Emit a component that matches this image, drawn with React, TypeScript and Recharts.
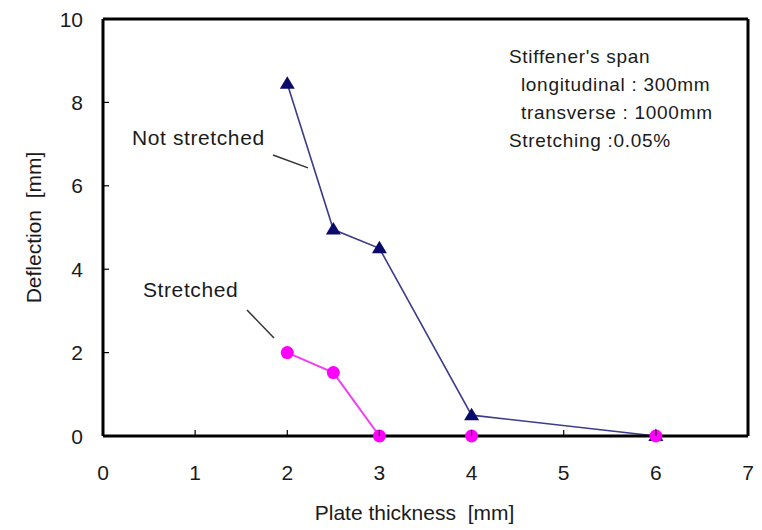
import React from 'react'
import { LineChart, Line, XAxis, YAxis, ReferenceLine, ReferenceDot } from 'recharts'

// plate thickness [mm] and deflection [mm]
const thicknessNotStretched = [2, 2.5, 3, 4, 6]
const deflectionNotStretched = [8.45, 4.95, 4.5, 0.5, 0]
const thicknessStretched = [2, 2.5, 3, 4, 6]
const deflectionStretched = [2.0, 1.52, 0, 0, 0]

const xTicks = [0, 1, 2, 3, 4, 5, 6, 7]
const yTicks = [0, 2, 4, 6, 8, 10]

const noteLines = ["Stiffener's span", '  longitudinal : 300mm', '  transverse : 1000mm', 'Stretching :0.05%']

const notStretched = thicknessNotStretched.map((x, i) => ({ x, y: deflectionNotStretched[i] }))
const stretched = thicknessStretched.map((x, i) => ({ x, y: deflectionStretched[i] }))

const FONT = '"Liberation Sans", Arial, sans-serif'
const TXT = '#1a1a1a'

const XTick = ({ x, y, payload }: any) => (
  <g>
    <line x1={x} x2={x} y1={y} y2={y - 6} stroke="#000" strokeWidth={1.2} />
    <text x={x} y={y + 44} textAnchor="middle" fontSize={21} fontFamily={FONT} fill={TXT}>
      {payload.value}
    </text>
  </g>
)

const YTick = ({ x, y, payload }: any) => (
  <g>
    <line x1={x} x2={x + 6} y1={y} y2={y} stroke="#000" strokeWidth={1.2} />
    <text x={x - 20} y={y} dy="0.36em" textAnchor="end" fontSize={21} fontFamily={FONT} fill={TXT}>
      {payload.value}
    </text>
  </g>
)

const Triangle = ({ cx, cy, index }: any) => (
  <path key={index} d={`M${cx},${cy - 7.5} L${cx + 7.5},${cy + 5} L${cx - 7.5},${cy + 5} Z`} fill="#0b0b6b" />
)

const Dot = ({ cx, cy, index }: any) => <circle key={index} cx={cx} cy={cy} r={6.5} fill="#ff00ff" />

const yLabel = ({ viewBox }: any) => {
  const cx = viewBox.x + 25
  const cy = viewBox.y + viewBox.height / 2
  return (
    <text x={cx} y={cy} transform={`rotate(-90 ${cx} ${cy})`} textAnchor="middle" dominantBaseline="central"
      fontSize={21} fontFamily={FONT} fill={TXT} style={{ whiteSpace: 'pre' }}>
      Deflection  [mm]
    </text>
  )
}

const xLabel = ({ viewBox }: any) => (
  <text x={viewBox.x + viewBox.width / 2 - 11} y={viewBox.y + 84} textAnchor="middle"
    fontSize={21} fontFamily={FONT} fill={TXT} style={{ whiteSpace: 'pre' }}>
    Plate thickness  [mm]
  </text>
)

const textAt = (value: string, size = 21) => ({ viewBox }: any) => (
  <text x={viewBox.x} y={viewBox.y} fontSize={size} fontFamily={FONT} fill={TXT} letterSpacing={0.6}
    style={{ whiteSpace: 'pre' }}>
    {value}
  </text>
)

const note = ({ viewBox }: any) => (
  <text fontSize={19} fontFamily={FONT} fill={TXT} letterSpacing={0.7} style={{ whiteSpace: 'pre' }}>
    {noteLines.map((l, i) => (
      <tspan key={i} x={viewBox.x} y={viewBox.y + i * 28}>{l}</tspan>
    ))}
  </text>
)

export default function App() {
  return (
    <LineChart width={754} height={522} margin={{ top: 11, right: 14, bottom: 0, left: 0 }}>
      <XAxis type="number" dataKey="x" domain={[0, 7]} ticks={xTicks} interval={0} height={94}
        tickSize={0} tickMargin={0} tick={<XTick />} axisLine={{ stroke: '#000', strokeWidth: 3 }}
        label={{ content: xLabel }} />
      <YAxis type="number" dataKey="y" domain={[0, 10]} ticks={yTicks} interval={0} width={95}
        tickSize={0} tickMargin={0} tick={<YTick />} axisLine={{ stroke: '#000', strokeWidth: 3 }}
        label={{ content: yLabel }} />
      <ReferenceLine y={10} stroke="#000" strokeWidth={3} />
      <ReferenceLine x={7} stroke="#000" strokeWidth={3} />
      <ReferenceLine segment={[{ x: 1.845, y: 6.74 }, { x: 2.225, y: 6.43 }]} stroke="#333" strokeWidth={1.5} />
      <ReferenceLine segment={[{ x: 1.563, y: 3.02 }, { x: 1.856, y: 2.35 }]} stroke="#333" strokeWidth={1.5} />
      <ReferenceDot x={0.315} y={6.98} r={0} stroke="none" label={{ content: textAt('Not stretched') }} />
      <ReferenceDot x={0.434} y={3.33} r={0} stroke="none" label={{ content: textAt('Stretched') }} />
      <ReferenceDot x={4.406} y={8.94} r={0} stroke="none" label={{ content: note }} />
      <Line data={notStretched} dataKey="y" stroke="#3c3c8c" strokeWidth={1.6} dot={<Triangle />}
        isAnimationActive={false} />
      <Line data={stretched} dataKey="y" stroke="#f040f0" strokeWidth={2} dot={<Dot />}
        isAnimationActive={false} />
    </LineChart>
  )
}
